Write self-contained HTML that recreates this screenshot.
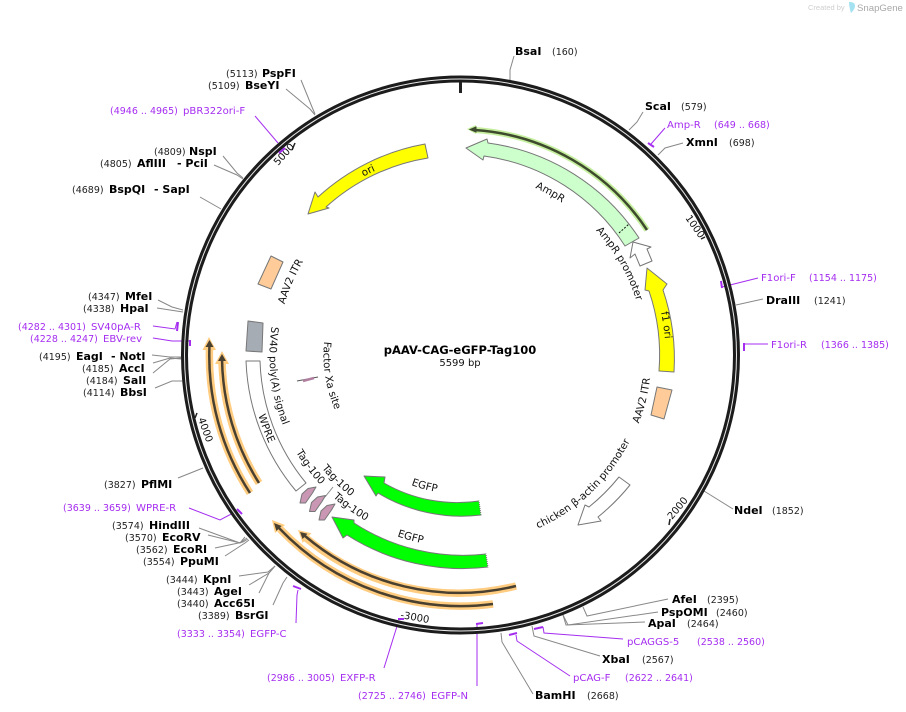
<!DOCTYPE html>
<html><head><meta charset="utf-8"><style>
html,body{margin:0;padding:0;background:#fff}
svg{display:block}
text{font-family:"DejaVu Sans","Liberation Sans",sans-serif}
.e{font-weight:bold;font-size:11px;fill:#000}
.n{font-size:9.5px;fill:#222}
.p{font-size:10.1px;fill:#a52df0}
.q{font-size:9.5px;fill:#a52df0}
.f{font-size:10.3px;fill:#111}
.t{font-size:10px;fill:#111}
.l{fill:none;stroke:#888;stroke-width:1}
.v{fill:none;stroke:#a52df0;stroke-width:1}
.m{fill:none;stroke:#a52df0;stroke-width:2}
.b{stroke:#777;stroke-width:1;stroke-linejoin:round}
</style></head><body>
<svg width="906" height="712" viewBox="0 0 906 712" xmlns="http://www.w3.org/2000/svg">
<defs>
<path id="cw183" d="M460.5,172 A183,183 0 1 1 460.5,538 A183,183 0 1 1 460.5,172"/>
<path id="cw184" d="M460.5,171 A184,184 0 1 1 460.5,539 A184,184 0 1 1 460.5,171"/>
<path id="cw203" d="M460.5,152 A203,203 0 1 1 460.5,558 A203,203 0 1 1 460.5,152"/>
<path id="cw205" d="M460.5,150 A205,205 0 1 1 460.5,560 A205,205 0 1 1 460.5,150"/>
<path id="ccw191" d="M460.5,164 A191,191 0 1 0 460.5,546 A191,191 0 1 0 460.5,164"/>
<path id="ccw190" d="M460.5,165 A190,190 0 1 0 460.5,545 A190,190 0 1 0 460.5,165"/>
<path id="ccw211" d="M460.5,144 A211,211 0 1 0 460.5,566 A211,211 0 1 0 460.5,144"/>
<path id="ccw137" d="M460.5,218 A137,137 0 1 0 460.5,492 A137,137 0 1 0 460.5,218"/>
<path id="ccw179" d="M460.5,176 A179,179 0 1 0 460.5,534 A179,179 0 1 0 460.5,176"/>
<path id="ccw139" d="M460.5,216 A139,139 0 1 0 460.5,494 A139,139 0 1 0 460.5,216"/>
<path id="ccw192" d="M460.5,163 A192,192 0 1 0 460.5,547 A192,192 0 1 0 460.5,163"/>
</defs>

<!-- logo -->
<text x="808" y="10" style="font-size:7.5px;fill:#cfcfcf;font-family:'Liberation Sans',sans-serif">Created by</text>
<path d="M849,2 C853,2 855,3 855,6 C855,9 852,12 851,13 C850,10 849,6 849,2Z" fill="#a4e2f2"/>
<text x="857" y="11" style="font-size:9.6px;fill:#a8a8a8;font-family:'Liberation Sans',sans-serif">SnapGene</text>

<!-- leaders -->
<g class="l">
<path d="M510,80 L510,70 L514,56"/>
<path d="M629,130 L637,122 L643,112"/>
<path d="M658,155 L665,148 L683,143"/>
<path d="M736,305 L763,299"/>
<path d="M704,491 L733,509"/>
<path d="M583,607 L587,616 L668,599"/>
<path d="M563,615 L568,625 L658,612"/>
<path d="M563,615 L566,625 L645,622"/>
<path d="M532,626 L534,636 L600,656"/>
<path d="M501,633 L502,642 L533,694"/>
<path d="M287,577 L283,583 L273,605"/>
<path d="M275,566 L269,573 L259,593"/>
<path d="M275,566 L269,573 L249,585"/>
<path d="M275,566 L268,572 L239,576"/>
<path d="M199,528 L240,543 L245,537"/>
<path d="M208,535 L240,543 L247,538"/>
<path d="M215,548 L243,542 L248,539"/>
<path d="M225,556 L245,543 L249,540"/>
<path d="M178,478 L203,468"/>
<path d="M155,388 L172,381 L182,381"/>
<path d="M152,355 L170,357 L181,357"/>
<path d="M153,363 L170,358 L181,359"/>
<path d="M153,373 L170,359 L181,358"/>
<path d="M157,308 L183,312"/>
<path d="M158,300 L172,307 L183,310"/>
<path d="M223,156 L237,173 L243,178"/>
<path d="M214,165 L237,175 L243,179"/>
<path d="M200,197 L221,209"/>
<path d="M301,80 L312,107 L315,114"/>
<path d="M286,89 L310,109 L315,115"/>
<path d="M333,487 L325,497"/>
</g>
<g class="v">
<path d="M651,144 L665,128"/>
<path d="M722,287 L758,278"/>
<path d="M745,344 L768,344"/>
<path d="M543,627 L544,633 L623,639"/>
<path d="M516,635 L517,641 L570,676"/>
<path d="M477,624 L477,686"/>
<path d="M398,623 L384,668"/>
<path d="M298,590 L297,595 L296,623"/>
<path d="M189,508 L220,520 L237,511"/>
<path d="M153,338 L172,341 L190,341"/>
<path d="M153,326 L175,329 L177,322"/>
<path d="M255,116 L278,143"/>
</g>

<!-- ring -->
<circle cx="460.5" cy="355" r="276" fill="none" stroke="#1c1c1c" stroke-width="7"/>
<circle cx="460.5" cy="355" r="276" fill="none" stroke="#fff" stroke-width="1" stroke-opacity=".9"/>

<!-- ticks -->
<g stroke="#222" fill="none">
<path d="M460.5,82 V93" stroke-width="3"/>
<path d="M705,237 L701,239" stroke-width="1.5"/>
<path d="M670,519 L669,525" stroke-width="1.5"/>
<path d="M197,413 L195,418" stroke-width="1.5"/>
<path d="M295,143 L292,150" stroke-width="1.5"/>
</g>
<text class="t" transform="translate(685,218) rotate(55)">1000</text>
<text class="t" transform="translate(672,520) rotate(-50)">2000</text>
<text class="t" transform="translate(400,618) rotate(10)">-3000</text>
<text class="t" transform="translate(198,419) rotate(70)">4000</text>
<text class="t" transform="translate(278,166) rotate(-48)">5000</text>

<!-- purple markers -->
<g class="m">
<path d="M648,143 L654,147"/>
<path d="M721,281 L722,288"/>
<path d="M744,343 L744,351"/>
<path d="M534,629 L543,627"/>
<path d="M509,635 L517,633"/>
<path d="M476,624 L483,623"/>
<path d="M398,619 L404,619"/>
<path d="M293,586 L301,589"/>
<path d="M237,509 L242,514"/>
<path d="M190,340 L190,346"/>
<path d="M178,322 L177,331"/>
<path d="M279,153 L285,148"/>
</g>

<!-- features -->
<path class="b" fill="#ccffcc" d="M639,238 A214,214 0 0 0 488,143 L487,139 L466,148 L483,160 L484,156 A199,199 0 0 1 625,246 Z"/>
<path d="M619,233 L629,224" stroke="#111" stroke-width="1" stroke-dasharray="2 1.5"/>
<path class="b" fill="#fff" d="M633,242 L651,247 L647,249 L652,261 L640,266 L635,254 L630,258 Z"/>
<path class="b" fill="#ffff00" d="M674,372 A214,214 0 0 0 663,290 L667,284 L647,268 L645,290 L649,291 A199,199 0 0 1 659,371 Z"/>
<path class="b" fill="#ffcc99" d="M657,387 L672,390 L664,419 L651,415 Z"/>
<path class="b" fill="#fff" d="M619,477 L630,485 A214,214 0 0 1 598,517 L601,521 L578,525 L585,505 L589,507 A200,200 0 0 0 619,477 Z"/>
<path class="b" fill="#00ff00" d="M479,501 A147,147 0 0 1 384,483 L385,477 L364,476 L376,496 L378,493 A161,161 0 0 0 481,515 Z"/>
<path d="M479.5,501 L481.5,515" stroke="#fff" stroke-width="1.5" stroke-dasharray="1 1"/>
<path class="b" fill="#00ff00" d="M486,554 A200,200 0 0 1 354,523 L354,520 L332,517 L343,538 L347,535 A214,214 0 0 0 488,567 Z"/>
<path d="M486.5,554 L488.5,567" stroke="#fff" stroke-width="1.5" stroke-dasharray="1 1"/>
<path class="b" fill="#ffff00" d="M425,144 A214,214 0 0 0 318,197 L315,192 L308,214 L329,208 L326,207 A199,199 0 0 1 428,158 Z"/>
<path class="b" fill="#ffcc99" d="M271,256 L283,262 L271,289 L258,284 Z"/>
<path class="b" fill="#a6acb3" d="M248,321 L263,323 L262,352 L246,351 Z"/>
<path class="b" fill="#fff" d="M246,361 L260,361 A201,201 0 0 0 306,483 L296,491 A215,215 0 0 1 246,361 Z"/>
<g class="b" fill="#c996b4">
<path d="M300,503 L302,494 L308,488.5 L316,487 L312.5,493 L305.5,503 Z"/>
<path d="M309.5,511.5 L311.5,502.5 L317.5,497 L325.5,495.5 L322,501.5 L315,511.5 Z"/>
<path d="M319,520 L321,511 L327,505.5 L335,504 L331.5,510 L324.5,520 Z"/>
</g>
<path d="M297,381 L318,377" stroke="#555" stroke-width="1"/>
<path d="M303,381 L314,378" stroke="#b07fa0" stroke-width="2.5"/>

<!-- primers -->
<path d="M647,230 A225,225 0 0 0 475,130" fill="none" stroke="#c5ef9e" stroke-width="6"/>
<path d="M476,125 L467,129 L476,134 Z" fill="#c5ef9e"/>
<path d="M647,230 A225,225 0 0 0 475,130" fill="none" stroke="#3e4a2e" stroke-width="2.5"/>
<path d="M476,127 L470,129.5 L476,132 Z" fill="#3e4a2e" stroke="#3e4a2e"/>

<g fill="none" stroke="#ffcc80" stroke-width="7.5">
<path d="M250,493 A251,251 0 0 1 209.5,348"/>
<path d="M259,483 A238.5,238.5 0 0 1 222,362"/>
<path d="M493,604 A251,251 0 0 1 280,529"/>
<path d="M516,586 A238,238 0 0 1 306,538"/>
</g>
<g fill="#ffcc80">
<path d="M209,337 L202.5,350 L216,350 Z"/>
<path d="M222,351 L215,364 L229,364 Z"/>
<path d="M272,520 L285,525 L275,533 Z"/>
<path d="M298,530 L311.4,533.2 L302.6,542.8 Z"/>
</g>
<g fill="none" stroke="#4a4030" stroke-width="2.5">
<path d="M250,493 A251,251 0 0 1 209.5,345"/>
<path d="M259,483 A238.5,238.5 0 0 1 222,359"/>
<path d="M493,604 A251,251 0 0 1 279,528"/>
<path d="M516,586 A238,238 0 0 1 305,536"/>
</g>
<g fill="#4a4030">
<path d="M209.5,340 L205.5,347 L213.5,347 Z"/>
<path d="M222,354 L218,361 L226,361 Z"/>
<path d="M274,523 L281.6,526 L276.4,531 Z"/>
<path d="M300,532 L307.4,533.8 L302.6,539 Z"/>
</g>

<!-- feature labels -->
<g class="f" text-anchor="middle">
<text><textPath href="#cw183" startOffset="8.03%">AmpR</textPath></text>
<text><textPath href="#cw184" startOffset="16.7%">AmpR promoter</textPath></text>
<text><textPath href="#cw203" startOffset="92.6%">ori</textPath></text>
<text><textPath href="#cw183" startOffset="81.5%">AAV2 ITR</textPath></text>
<text><textPath href="#cw205" startOffset="22.7%">f1 ori</textPath></text>
<text><textPath href="#ccw191" startOffset="71.1%">AAV2 ITR</textPath></text>
<text><textPath href="#ccw190" startOffset="62.1%">chicken β-actin promoter</textPath></text>
<text><textPath href="#ccw191" startOffset="26.8%">SV40 poly(A) signal</textPath></text>
<text><textPath href="#ccw211" startOffset="30.75%">WPRE</textPath></text>
<text><textPath href="#ccw137" startOffset="27.5%">Factor Xa site</textPath></text>
<text><textPath href="#ccw191" startOffset="35.2%">Tag-100</textPath></text>
<text><textPath href="#ccw179" startOffset="37.7%">Tag-100</textPath></text>
<text><textPath href="#ccw191" startOffset="40.06%">Tag-100</textPath></text>
<text><textPath href="#ccw139" startOffset="45.75%">EGFP</textPath></text>
<text><textPath href="#ccw192" startOffset="45.75%">EGFP</textPath></text>
</g>

<!-- center -->
<text class="e" x="460" y="354" text-anchor="middle" style="font-size:11.5px">pAAV-CAG-eGFP-Tag100</text>
<text x="460" y="366" text-anchor="middle" style="font-size:10px;fill:#111">5599 bp</text>

<!-- site labels -->
<text class="e" x="515" y="55">BsaI</text><text class="n" x="552" y="55">(160)</text>
<text class="e" x="645" y="110">ScaI</text><text class="n" x="681" y="110">(579)</text>
<text class="p" x="667" y="128">Amp-R</text><text class="q" x="714" y="128">(649 .. 668)</text>
<text class="e" x="686" y="146">XmnI</text><text class="n" x="729" y="146">(698)</text>
<text class="p" x="761" y="281">F1ori-F</text><text class="q" x="809" y="281">(1154 .. 1175)</text>
<text class="e" x="766" y="304">DraIII</text><text class="n" x="814" y="304">(1241)</text>
<text class="p" x="771" y="348">F1ori-R</text><text class="q" x="821" y="348">(1366 .. 1385)</text>
<text class="e" x="734" y="514">NdeI</text><text class="n" x="772" y="514">(1852)</text>
<text class="e" x="672" y="603">AfeI</text><text class="n" x="707" y="603">(2395)</text>
<text class="e" x="661" y="616">PspOMI</text><text class="n" x="716" y="616">(2460)</text>
<text class="e" x="648" y="627">ApaI</text><text class="n" x="687" y="627">(2464)</text>
<text class="p" x="627" y="645">pCAGGS-5</text><text class="q" x="697" y="645">(2538 .. 2560)</text>
<text class="e" x="602" y="663">XbaI</text><text class="n" x="642" y="663">(2567)</text>
<text class="p" x="573" y="681">pCAG-F</text><text class="q" x="625" y="681">(2622 .. 2641)</text>
<text class="e" x="535" y="699">BamHI</text><text class="n" x="587" y="699">(2668)</text>
<text class="q" x="358" y="699">(2725 .. 2746)</text><text class="p" x="431" y="699">EGFP-N</text>
<text class="q" x="267" y="681">(2986 .. 3005)</text><text class="p" x="340" y="681">EXFP-R</text>
<text class="q" x="177" y="637">(3333 .. 3354)</text><text class="p" x="250" y="637">EGFP-C</text>
<text class="n" x="198" y="619">(3389)</text><text class="e" x="235" y="619">BsrGI</text>
<text class="n" x="177" y="607">(3440)</text><text class="e" x="214" y="607">Acc65I</text>
<text class="n" x="177" y="595">(3443)</text><text class="e" x="214" y="595">AgeI</text>
<text class="n" x="166" y="583">(3444)</text><text class="e" x="203" y="583">KpnI</text>
<text class="n" x="143" y="565">(3554)</text><text class="e" x="180" y="565">PpuMI</text>
<text class="n" x="136" y="553">(3562)</text><text class="e" x="173" y="553">EcoRI</text>
<text class="n" x="125" y="541">(3570)</text><text class="e" x="162" y="541">EcoRV</text>
<text class="n" x="112" y="529">(3574)</text><text class="e" x="149" y="529">HindIII</text>
<text class="q" x="63" y="511">(3639 .. 3659)</text><text class="p" x="136" y="511">WPRE-R</text>
<text class="n" x="104" y="488">(3827)</text><text class="e" x="141" y="488">PflMI</text>
<text class="n" x="83" y="396">(4114)</text><text class="e" x="120" y="396">BbsI</text>
<text class="n" x="86" y="384">(4184)</text><text class="e" x="123" y="384">SalI</text>
<text class="n" x="82" y="372">(4185)</text><text class="e" x="119" y="372">AccI</text>
<text class="n" x="39" y="360">(4195)</text><text class="e" x="76" y="360">EagI</text><text class="e" x="111" y="360">- NotI</text>
<text class="q" x="30" y="342">(4228 .. 4247)</text><text class="p" x="103" y="342">EBV-rev</text>
<text class="q" x="18" y="330">(4282 .. 4301)</text><text class="p" x="91" y="330">SV40pA-R</text>
<text class="n" x="83" y="312">(4338)</text><text class="e" x="120" y="312">HpaI</text>
<text class="n" x="88" y="300">(4347)</text><text class="e" x="125" y="300">MfeI</text>
<text class="n" x="72" y="193">(4689)</text><text class="e" x="109" y="193">BspQI</text><text class="e" x="154" y="193">- SapI</text>
<text class="n" x="100" y="167">(4805)</text><text class="e" x="137" y="167">AflIII</text><text class="e" x="177" y="167">- PciI</text>
<text class="n" x="154" y="155">(4809)</text><text class="e" x="189" y="155">NspI</text>
<text class="q" x="110" y="114">(4946 .. 4965)</text><text class="p" x="183" y="114">pBR322ori-F</text>
<text class="n" x="208" y="89">(5109)</text><text class="e" x="245" y="89">BseYI</text>
<text class="n" x="226" y="77">(5113)</text><text class="e" x="262" y="77">PspFI</text>
</svg>
</body></html>
